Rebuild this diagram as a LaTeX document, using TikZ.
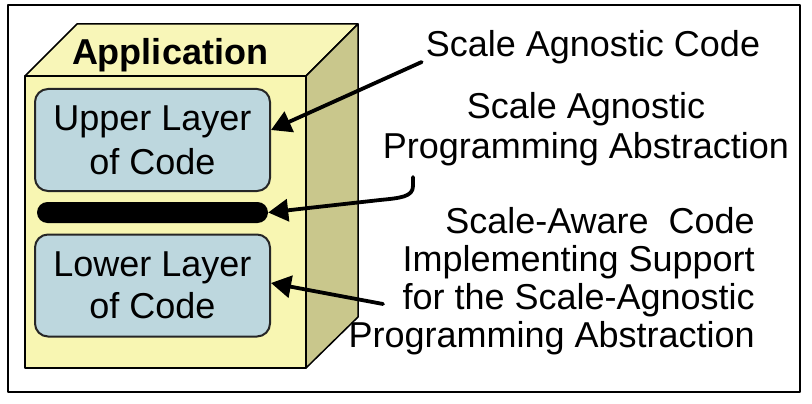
\documentclass[tikz,border=0pt]{standalone}
\usepackage{fontspec}
\setmainfont{Liberation Sans}
\usetikzlibrary{arrows.meta, positioning, calc}

\definecolor{appfront}{HTML}{F8F6B2}
\definecolor{apptop}{HTML}{F8F6B8}
\definecolor{appside}{HTML}{C9C78C}
\definecolor{layerblue}{HTML}{BDD7DE}

\begin{document}
\begin{tikzpicture}[x=1pt, y=-1pt, line join=round, line cap=round,
    layerbox/.style={draw=black!85, line width=2pt, fill=layerblue,
        rounded corners=13pt, minimum width=235pt, minimum height=102pt,
        align=center, inner sep=0pt, font=\fontsize{36}{44}\selectfont},
    absbar/.style={fill=black, rounded corners=10.5pt,
        minimum width=231pt, minimum height=21pt, inner sep=0pt},
    note/.style={inner sep=0pt, font=\fontsize{36}{40}\selectfont},
    pointer/.style={line width=3.8pt,
        -{Triangle[length=20pt, width=22pt]}}]
    \useasboundingbox (0,0) rectangle (812,404);
    % outer frame
    \draw[line width=2.2pt] (8,5) rectangle (800,392);

    % the application block
    \pgfmathsetmacro{\D}{52}
    \filldraw[fill=apptop, line width=1.5pt]
        (25,76) -- ++(\D,-\D) -- (358,24) -- (306,76) -- cycle;
    \filldraw[fill=appside, line width=1.5pt]
        (306,76) -- (358,24) -- (358,317) -- (306,368) -- cycle;
    \filldraw[fill=appfront, line width=2pt] (25,76) rectangle (306,368);
    \node[font=\fontsize{36}{40}\selectfont\bfseries, anchor=base]
        (apptitle) at (170,65) {Application};

    % layers inside
    \node[layerbox] (upper) at (152.5,140) {Upper Layer\\of Code};
    \node[absbar] (bar) at (152.5,212.5) {};
    \node[layerbox, font=\fontsize{36}{42}\selectfont]
        (lower) at (152.5,285.5) {Lower Layer\\of Code};

    % labels on the right (base = last line)
    \node[note, anchor=base] (agcode) at (593,57) {Scale Agnostic Code};
    \node[note, anchor=base, align=center] (abstr) at (586,158)
        {Scale Agnostic\\Programming Abstraction};
    \node[note, anchor=base east, align=right,
        font=\fontsize{36}{38}\selectfont] (aware) at (755,347)
        {Scale-Aware~ Code\\Implementing Support\\for the Scale-Agnostic\\Programming Abstraction};

    % connectors
    \coordinate (abstail) at (413,177);
    \coordinate (awaretail) at (383,304);
    \draw[pointer] ([xshift=-4pt, yshift=-5pt]agcode.base west)
        -- ([yshift=10pt]upper.east);
    \draw[pointer] (abstail) -- ++(0,9)
        .. controls (413,197) and (400,198) .. (380,200) -- (bar.east);
    \draw[pointer] (awaretail) -- ([yshift=2.5pt]lower.east);
\end{tikzpicture}
\end{document}
